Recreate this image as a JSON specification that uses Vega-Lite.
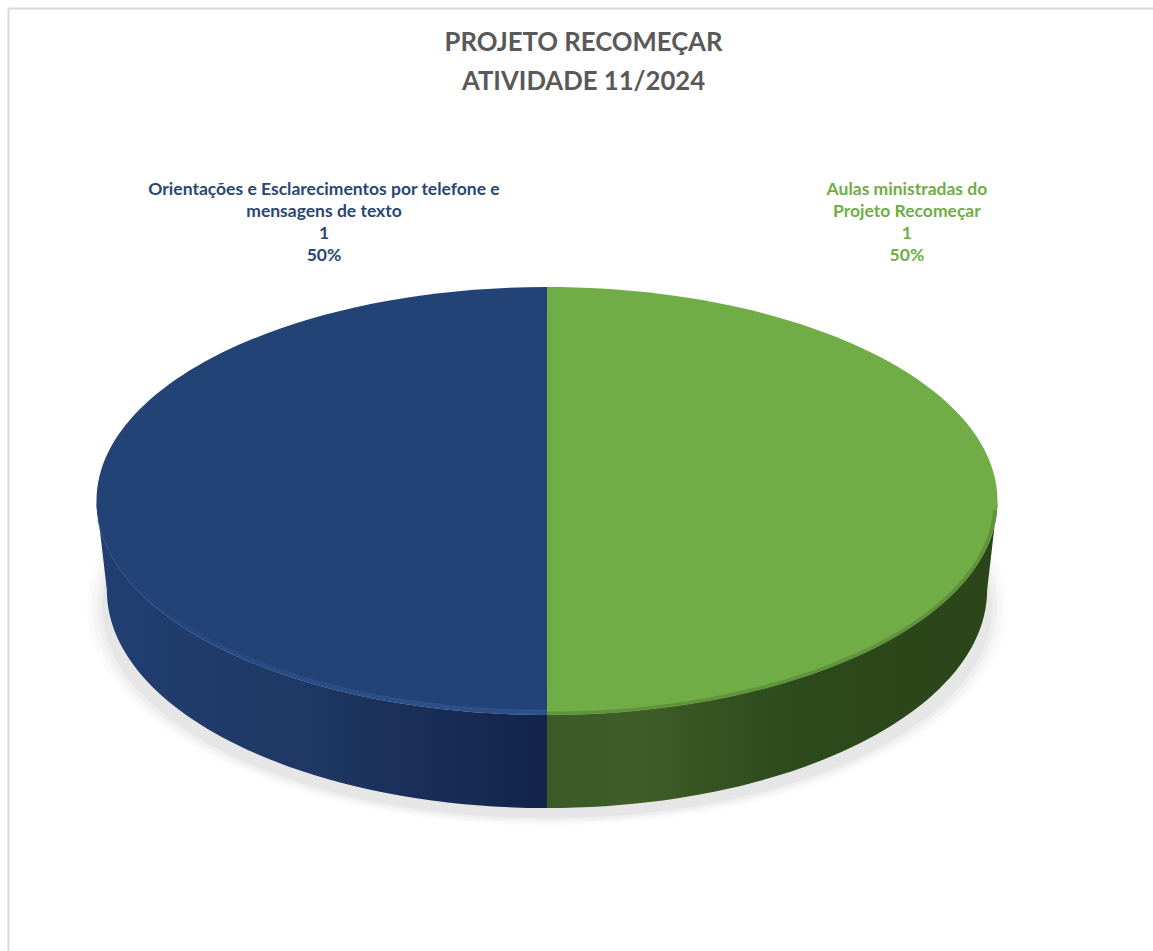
{"$schema":"https://vega.github.io/schema/vega-lite/v6.json","width":1145,"height":943,"autosize":"none","padding":{"left":8,"top":8,"right":0,"bottom":0},"background":"white","config":{"view":{"stroke":null},"font":"Lato"},
"title":{"text":["PROJETO RECOMEÇAR","ATIVIDADE 11/2024"],"font":"Lato","fontSize":25.7,"fontWeight":"bold","color":"#595959","anchor":"middle","dx":3,"offset":-108,"lineHeight":39,"baseline":"alphabetic"},
"data":{"values":[
{"atividade":"Orientações e Esclarecimentos por telefone e mensagens de texto","valor":1,"percentual":"50%","rotulo":"Orientações e Esclarecimentos por telefone e\nmensagens de texto\n1\n50%"},
{"atividade":"Aulas ministradas do Projeto Recomeçar","valor":1,"percentual":"50%","rotulo":"Aulas ministradas do\nProjeto Recomeçar\n1\n50%"}]},
"encoding":{
"x":{"datum":0,"type":"quantitative","title":null,"scale":{"domain":[-1.1964,1.3452],"nice":false,"zero":false},"axis":{"orient":"top","domain":true,"domainColor":"#d9d9d9","domainWidth":2,"ticks":false,"labels":false,"grid":false}},
"y":{"datum":0,"type":"quantitative","title":null,"scale":{"domain":[-0.9989,1.0943],"nice":false,"zero":false},"axis":{"orient":"left","domain":true,"domainColor":"#d9d9d9","domainWidth":2,"ticks":false,"labels":false,"grid":false}}},
"layer":[
{"transform":[{"filter":"datum.atividade[0]=='A'"}],"mark":{"type":"point","filled":true,"color":"#9a9a9a","opacity":0.04,"shape":"M-1,0 A1,.475 0 1 0 1,0 A1,.475 0 1 0 -1,0 Z","size":846400},"encoding":{"y":{"datum":-0.235,"type":"quantitative"}}},
{"transform":[{"filter":"datum.atividade[0]=='A'"}],"mark":{"type":"point","filled":true,"color":"#9a9a9a","opacity":0.05,"shape":"M-1,0 A1,.475 0 1 0 1,0 A1,.475 0 1 0 -1,0 Z","size":828100},"encoding":{"y":{"datum":-0.235,"type":"quantitative"}}},
{"transform":[{"filter":"datum.atividade[0]=='A'"}],"mark":{"type":"point","filled":true,"color":"#9a9a9a","opacity":0.07,"shape":"M-1,0 A1,.475 0 1 0 1,0 A1,.475 0 1 0 -1,0 Z","size":810000},"encoding":{"y":{"datum":-0.235,"type":"quantitative"}}},
{"transform":[{"filter":"datum.atividade[0]=='A'"}],"mark":{"type":"point","filled":true,"color":"#9a9a9a","opacity":0.1,"shape":"M-1,0 A1,.475 0 1 0 1,0 A1,.475 0 1 0 -1,0 Z","size":792100},"encoding":{"y":{"datum":-0.235,"type":"quantitative"}}},
{"transform":[{"filter":"datum.atividade[0]=='O'"}],"mark":{"type":"point","filled":true,"opacity":1,"size":811801,"shape":"M-1,0 L-.977,.1976 A.977,.484 0 0 0 0,.6815 L0,.475 A1,.475 0 0 1 -1,0 Z","color":{"gradient":"linear","x1":0,"x2":1,"y1":0,"y2":0,"stops":[{"offset":0,"color":"#213f72"},{"offset":0.45,"color":"#1f3865"},{"offset":1,"color":"#12244a"}]}}},
{"transform":[{"filter":"datum.atividade[0]=='A'"}],"mark":{"type":"point","filled":true,"opacity":1,"size":811801,"shape":"M0,.475 A1,.475 0 0 0 1,0 L.977,.1976 A.977,.484 0 0 1 0,.6815 Z","color":{"gradient":"linear","x1":0,"x2":1,"y1":0,"y2":0,"stops":[{"offset":0,"color":"#3a5a26"},{"offset":0.2,"color":"#3e5d28"},{"offset":0.55,"color":"#2c4a1b"},{"offset":1,"color":"#2b4519"}]}}},
{"transform":[{"filter":"datum.atividade[0]=='O'"}],"mark":{"type":"point","filled":true,"opacity":1,"color":"#234276","size":811801,"shape":"M0,-.475 A1,.475 0 0 0 0,.475 Z"}},
{"transform":[{"filter":"datum.atividade[0]=='A'"}],"mark":{"type":"point","filled":true,"opacity":1,"color":"#70ad47","size":811801,"shape":"M0,-.475 A1,.475 0 0 1 0,.475 Z"}},
{"transform":[{"filter":"datum.atividade[0]=='O'"}],"mark":{"type":"point","filled":false,"opacity":0.45,"strokeWidth":5,"size":811801,"shape":"M-.993,.04 A.993,.468 0 0 0 0,.469","color":{"gradient":"linear","x1":0,"x2":1,"y1":0,"y2":0,"stops":[{"offset":0,"color":"#234276"},{"offset":0.4,"color":"#335a98"},{"offset":1,"color":"#3f66a4"}]}}},
{"transform":[{"filter":"datum.atividade[0]=='A'"}],"mark":{"type":"point","filled":false,"opacity":0.5,"strokeWidth":4,"size":811801,"color":"#4f7d31","shape":"M0,.472 A.995,.47 0 0 0 .995,.02"}},
{"transform":[{"filter":"datum.atividade[0]=='O'"}],"mark":{"type":"text","lineBreak":"\n","lineHeight":22,"font":"Lato","fontSize":17.5,"fontWeight":"bold","color":"#2a4673","align":"center","baseline":"middle"},"encoding":{"text":{"field":"rotulo"},"x":{"datum":-0.495,"type":"quantitative"},"y":{"datum":0.69,"type":"quantitative"}}},
{"transform":[{"filter":"datum.atividade[0]=='A'"}],"mark":{"type":"text","lineBreak":"\n","lineHeight":22,"font":"Lato","fontSize":17.5,"fontWeight":"bold","color":"#70ad47","align":"center","baseline":"middle"},"encoding":{"text":{"field":"rotulo"},"x":{"datum":0.799,"type":"quantitative"},"y":{"datum":0.69,"type":"quantitative"}}}
]}
